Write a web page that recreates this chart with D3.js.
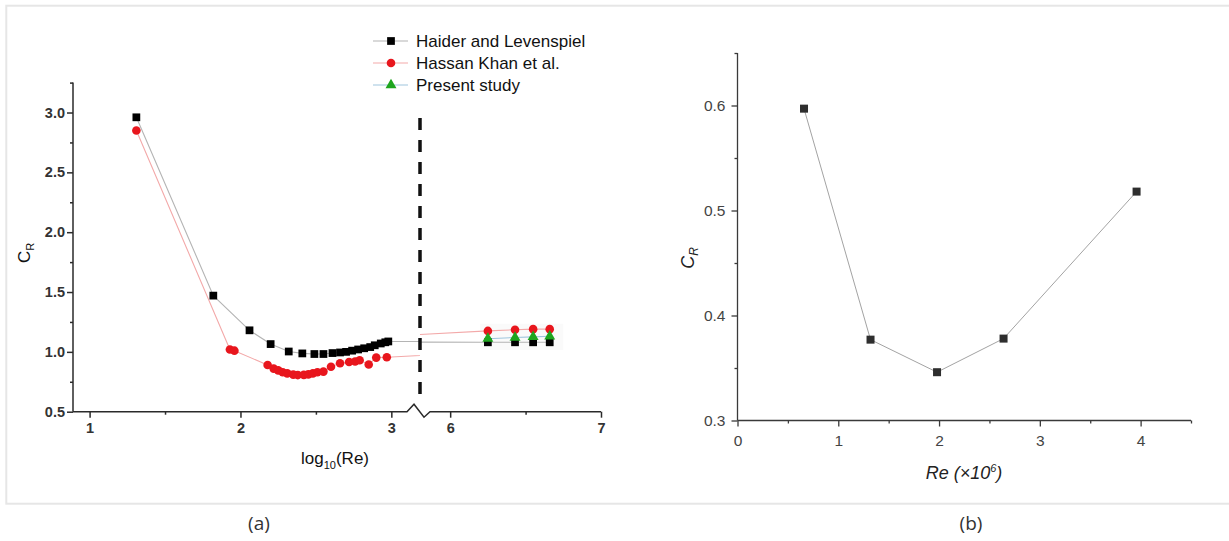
<!DOCTYPE html>
<html>
<head>
<meta charset="utf-8">
<script src="https://cdn.jsdelivr.net/npm/d3@7"></script>
<style>
  html, body { margin: 0; padding: 0; background: #fff; }
  svg { display: block; }
</style>
</head>
<body>
<svg id="fig" width="1229" height="541"></svg>
<script>
// ---- Panel (a): rotation coefficient vs log10(Re), broken x axis ----
const haiderX = [1.31, 1.82, 2.06, 2.20, 2.32, 2.41, 2.49, 2.55, 2.61, 2.66, 2.70, 2.74, 2.78, 2.82, 2.86, 2.89, 2.93, 2.96, 2.98, 6.25, 6.43, 6.55, 6.66];
const haiderY = [2.96, 1.47, 1.18, 1.065, 1.003, 0.987, 0.982, 0.982, 0.99, 0.995, 1.0, 1.01, 1.02, 1.03, 1.04, 1.055, 1.07, 1.08, 1.087, 1.08, 1.08, 1.08, 1.08];

const hassanX = [1.31, 1.93, 1.96, 2.18, 2.22, 2.25, 2.28, 2.31, 2.35, 2.38, 2.42, 2.45, 2.48, 2.51, 2.55, 2.60, 2.66, 2.72, 2.76, 2.79, 2.85, 2.90, 2.97, 6.25, 6.43, 6.55, 6.66];
const hassanY = [2.85, 1.02, 1.01, 0.89, 0.86, 0.845, 0.83, 0.82, 0.81, 0.806, 0.808, 0.812, 0.82, 0.83, 0.835, 0.875, 0.905, 0.915, 0.92, 0.93, 0.895, 0.952, 0.955, 1.175, 1.185, 1.19, 1.19];

const presentX = [6.25, 6.43, 6.55, 6.66];
const presentY = [1.11, 1.12, 1.125, 1.13];

const seriesNames = ["Haider and Levenspiel", "Hassan Khan et al.", "Present study"];

const aYTicks = [0.5, 1.0, 1.5, 2.0, 2.5, 3.0];
const aYMinor = [0.75, 1.25, 1.75, 2.25, 2.75, 3.25];
const aXTicksLow = [1, 2, 3];
const aXTicksHigh = [6, 7];
const aXMinorLow = [1.5, 2.5];
const aXMinorHigh = [6.5];

// ---- Panel (b): rotation coefficient vs Re ----
const reValues = [0.66, 1.32, 1.98, 2.64, 3.96];
const crValues = [0.597, 0.377, 0.346, 0.378, 0.518];
const bYTicks = [0.3, 0.4, 0.5, 0.6];
const bYMinor = [0.35, 0.45, 0.55, 0.65];
const bXTicks = [0, 1, 2, 3, 4];
const bXMinor = [0.5, 1.5, 2.5, 3.5, 4.5];

const svg = d3.select("#fig");
const FONT = "'Liberation Sans', Arial, sans-serif";

// outer frame
svg.append("rect")
  .attr("x", 6.3).attr("y", 5.7).attr("width", 1240).attr("height", 498)
  .attr("fill", "none").attr("stroke", "#e6e6e6").attr("stroke-width", 2);

// ================= Panel (a) =================
const A = svg.append("g");
const ay = d3.scaleLinear().domain([0.5, 3.25]).range([411.7, 82.6]);
const ax1 = d3.scaleLinear().domain([0.89, 3.19]).range([73, 420]);
const ax2 = d3.scaleLinear().domain([5.8, 7.0]).range([420, 601]);
const breakX = ax1.range()[1];

const defs = svg.append("defs");
defs.append("clipPath").attr("id", "clipLow")
  .append("rect").attr("x", ax1.range()[0]).attr("y", 0)
  .attr("width", breakX - ax1.range()[0]).attr("height", 541);
defs.append("clipPath").attr("id", "clipHigh")
  .append("rect").attr("x", breakX).attr("y", 0)
  .attr("width", ax2.range()[1] - breakX + 20).attr("height", 541);

// faint backdrop behind the high-Re points
A.append("rect")
  .attr("x", ax2(6.2)).attr("y", ay(1.235))
  .attr("width", ax2(6.75) - ax2(6.2)).attr("height", ay(1.015) - ay(1.235))
  .attr("fill", "#fafafa");

const aSeries = [
  { name: seriesNames[0], xs: haiderX, ys: haiderY, line: "#b4b4b4", fill: "#000", shape: "square" },
  { name: seriesNames[1], xs: hassanX, ys: hassanY, line: "#f3a9a9", fill: "#e8161d", shape: "circle" },
  { name: seriesNames[2], xs: presentX, ys: presentY, line: "#9fc6de", fill: "#1ea51e", shape: "triangle" }
];

const symbolFor = (shape) => shape === "square" ? d3.symbol(d3.symbolSquare, 60)
  : shape === "circle" ? d3.symbol(d3.symbolCircle, 58)
  : d3.symbol(d3.symbolTriangle, 52);

// lines, drawn on each side of the break and clipped
[[ax1, "clipLow"], [ax2, "clipHigh"]].forEach(([sx, clip]) => {
  const gl = A.append("g").attr("clip-path", `url(#${clip})`);
  aSeries.forEach(s => {
    const pts = s.xs.map((x, i) => [x, s.ys[i]]);
    gl.append("path")
      .attr("d", d3.line().x(d => sx(d[0])).y(d => ay(d[1]))(pts))
      .attr("fill", "none").attr("stroke", s.line).attr("stroke-width", 1.1);
  });
});

// markers
aSeries.forEach(s => {
  s.xs.forEach((x, i) => {
    const sx = x < 4 ? ax1 : ax2;
    A.append("path")
      .attr("d", symbolFor(s.shape)())
      .attr("transform", `translate(${sx(x)},${ay(s.ys[i])})`)
      .attr("fill", s.fill);
  });
});

// y axis
const yAxisA = A.append("g").attr("transform", `translate(${ax1.range()[0]},0)`);
yAxisA.call(d3.axisLeft(ay).tickValues(aYTicks).tickSize(6).tickPadding(2).tickFormat(d3.format(".1f")));
yAxisA.append("g").call(d3.axisLeft(ay).tickValues(aYMinor).tickSize(3).tickFormat(""))
  .select(".domain").remove();
yAxisA.select(".domain").attr("d", `M0,${ay.range()[0]}V${ay.range()[1]}`);
yAxisA.selectAll("path, line").attr("stroke", "#2a2a2a").attr("stroke-width", 1.5);
yAxisA.selectAll("text").attr("font-family", FONT).attr("font-size", 14.5)
  .attr("font-weight", "bold").attr("fill", "#333");

// x axis (two segments with a break)
const axisY = ay.range()[0];
[[ax1, aXTicksLow, aXMinorLow], [ax2, aXTicksHigh, aXMinorHigh]].forEach(([sx, major, minor]) => {
  const g = A.append("g").attr("transform", `translate(0,${axisY})`);
  g.call(d3.axisBottom(sx).tickValues(major).tickSize(6).tickPadding(5).tickFormat(d3.format("d")));
  g.append("g").call(d3.axisBottom(sx).tickValues(minor).tickSize(3).tickFormat(""))
    .select(".domain").remove();
  g.select(".domain").remove();
  g.selectAll("line").attr("stroke", "#2a2a2a").attr("stroke-width", 1.5);
  g.selectAll("text").attr("font-family", FONT).attr("font-size", 14.5)
    .attr("font-weight", "bold").attr("fill", "#333");
});
A.append("path")
  .attr("d", `M${ax1.range()[0]},${axisY}H${breakX - 13}L${breakX - 6},${axisY - 7.5}L${breakX + 4},${axisY + 5.5}L${breakX + 10},${axisY}H${ax2.range()[1]}`)
  .attr("fill", "none").attr("stroke", "#2a2a2a").attr("stroke-width", 1.5);

// dashed divider
A.append("line")
  .attr("x1", breakX).attr("x2", breakX)
  .attr("y1", ay(2.955)).attr("y2", ay(0.64))
  .attr("stroke", "#111").attr("stroke-width", 3.5).attr("stroke-dasharray", "12,10");

// axis titles
const xtA = A.append("text").attr("x", 335).attr("y", 464).attr("text-anchor", "middle")
  .attr("font-family", FONT).attr("font-size", 17).attr("fill", "#111");
xtA.append("tspan").text("log");
xtA.append("tspan").attr("font-size", 11).attr("dy", 5).text("10");
xtA.append("tspan").attr("dy", -5).text("(Re)");

const ytA = A.append("text").attr("transform", "translate(30,253) rotate(-90)")
  .attr("text-anchor", "middle").attr("font-family", FONT).attr("font-size", 17).attr("fill", "#111");
ytA.append("tspan").text("C");
ytA.append("tspan").attr("font-size", 11).attr("dy", 4).text("R");

// legend
aSeries.forEach((s, i) => {
  const ly = 41 + i * 22;
  const g = A.append("g");
  g.append("line").attr("x1", 373).attr("x2", 408).attr("y1", ly).attr("y2", ly)
    .attr("stroke", s.line).attr("stroke-width", 1.2);
  g.append("path").attr("d", symbolFor(s.shape)())
    .attr("transform", `translate(391,${ly})`).attr("fill", s.fill);
  g.append("text").attr("x", 416).attr("y", ly).attr("dy", "0.36em")
    .attr("font-family", FONT).attr("font-size", 17).attr("fill", "#111").text(s.name);
});

// ================= Panel (b) =================
const B = svg.append("g");
const by = d3.scaleLinear().domain([0.3, 0.65]).range([420.5, 53]);
const bx = d3.scaleLinear().domain([0, 4.5]).range([737.5, 1191]);

const bPts = reValues.map((r, i) => [r, crValues[i]]);
B.append("path")
  .attr("d", d3.line().x(d => bx(d[0])).y(d => by(d[1]))(bPts))
  .attr("fill", "none").attr("stroke", "#a3a3a3").attr("stroke-width", 1);
B.selectAll(".sq").data(bPts).join("rect")
  .attr("x", d => bx(d[0]) - 4).attr("y", d => by(d[1]) - 4)
  .attr("width", 8).attr("height", 8).attr("fill", "#2e2e2e");

const yAxisB = B.append("g").attr("transform", `translate(${bx.range()[0]},0)`);
yAxisB.call(d3.axisLeft(by).tickValues(bYTicks).tickSize(6).tickPadding(6).tickFormat(d3.format(".1f")));
yAxisB.append("g").call(d3.axisLeft(by).tickValues(bYMinor).tickSize(3).tickFormat(""))
  .select(".domain").remove();
yAxisB.select(".domain").attr("d", `M0,${by.range()[0]}V${by.range()[1]}`);

const xAxisB = B.append("g").attr("transform", `translate(0,${by.range()[0]})`);
xAxisB.call(d3.axisBottom(bx).tickValues(bXTicks).tickSize(6).tickPadding(8).tickFormat(d3.format("d")));
xAxisB.append("g").call(d3.axisBottom(bx).tickValues(bXMinor).tickSize(3).tickFormat(""))
  .select(".domain").remove();
xAxisB.select(".domain").attr("d", `M${bx.range()[0]},0H${bx.range()[1]}`);

[yAxisB, xAxisB].forEach(g => {
  g.selectAll("path, line").attr("stroke", "#3a3a3a").attr("stroke-width", 1.3);
  g.selectAll("text").attr("font-family", FONT).attr("font-size", 15.5).attr("fill", "#444");
});

const xtB = B.append("text").attr("x", 964).attr("y", 479).attr("text-anchor", "middle")
  .attr("font-family", FONT).attr("font-size", 18).attr("font-style", "italic").attr("fill", "#222");
xtB.append("tspan").text("Re (×10");
xtB.append("tspan").attr("font-size", 11).attr("dy", -7).text("6");
xtB.append("tspan").attr("dy", 7).text(")");

const ytB = B.append("text").attr("transform", "translate(694,258) rotate(-90)")
  .attr("text-anchor", "middle").attr("font-family", FONT).attr("font-size", 18)
  .attr("font-style", "italic").attr("fill", "#222");
ytB.append("tspan").text("C");
ytB.append("tspan").attr("font-size", 12).attr("dy", 4).text("R");

// ---- captions ----
[["(a)", 259], ["(b)", 971]].forEach(([t, x]) => {
  svg.append("text").attr("x", x).attr("y", 530).attr("text-anchor", "middle")
    .attr("font-family", "'Open Sans', 'Noto Sans', sans-serif").attr("font-size", 19)
    .attr("fill", "#333").text(t);
});
</script>
</body>
</html>
